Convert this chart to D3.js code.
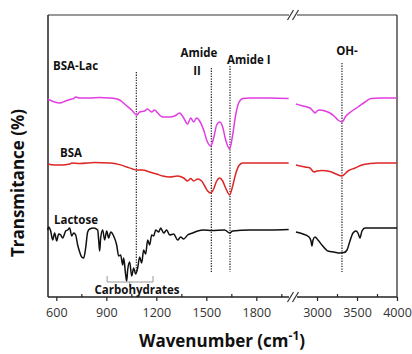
<!DOCTYPE html>
<html><head><meta charset="utf-8">
<script src="https://cdn.jsdelivr.net/npm/d3@7"></script>
<style>body{margin:0;background:#fff}svg{display:block}</style>
</head><body><svg id="c" width="412" height="354"></svg>
<script>
// ---------- data (wavenumber cm-1, transmittance a.u.) ----------
const bsaLacLeft = [[548,99],[620,97],[656,98],[692,99],[704,99.2],[716,100],[740,99.5],[800,99.5],[860,99.8],[920,99.5],[950,99.2],[980,98.5],[1016,96],[1052,93.5],[1082,91],[1100,92.5],[1130,93],[1147,94],[1172,92.5],[1190,93.5],[1208,92],[1238,90],[1280,90],[1310,90.5],[1340,92],[1364,89.5],[1388,86.5],[1406,89.5],[1424,87.5],[1442,89.5],[1460,88],[1484,83.5],[1502,78.5],[1526,75.5],[1544,79.5],[1562,86],[1580,87.5],[1598,85],[1616,78.5],[1640,74],[1658,81],[1676,91],[1694,97],[1718,99.2],[1760,99.5],[1880,99.5],[1994,99.2]];
const bsaLacRight = [[2737,96.5],[2825,95.5],[2912,94.5],[2950,93],[2975,92],[3000,93],[3037,93.5],[3100,93],[3162,92],[3212,90.5],[3262,88.5],[3312,87.5],[3362,90.5],[3437,93],[3512,95],[3600,97.5],[3675,99.2],[3787,99.5],[4000,99.5]];
const bsaLeft = [[548,66.5],[590,66],[632,66],[680,66.5],[692,67],[740,66.7],[830,67.2],[920,67],[980,66.2],[1022,65],[1058,64],[1082,63.5],[1118,63.5],[1160,62.5],[1202,61.5],[1238,60.5],[1280,60],[1328,60.5],[1364,59.5],[1388,58],[1406,59.2],[1424,58],[1448,59],[1472,58],[1490,55.5],[1508,53],[1526,52],[1544,54],[1562,58],[1580,59.5],[1598,58],[1616,54.5],[1640,51],[1658,55.5],[1676,61.5],[1694,65.5],[1718,67],[1994,67]];
const bsaRight = [[2737,66],[2850,65],[2912,64.5],[2962,62.5],[3000,63],[3062,63.2],[3162,62.7],[3237,61.5],[3312,60.5],[3387,63],[3475,64.5],[3562,66],[3662,66.7],[3762,67],[4000,67]];
const lactoseLeft = [[548,33.5],[554,35],[566,33],[578,28.5],[590,32],[602,28],[614,31.5],[626,31],[638,29.5],[656,33],[668,33.5],[680,34.5],[692,30.5],[704,32],[716,31],[728,26],[740,22.5],[752,20],[764,19.5],[776,24.5],[788,32.5],[800,34],[824,34.5],[848,33.5],[854,28.5],[860,23],[866,29.5],[878,33.5],[890,28.5],[902,33],[914,29.5],[926,32.5],[944,30.5],[962,26],[974,20.5],[986,21],[998,16],[1004,19.5],[1016,11],[1022,8],[1028,13.5],[1040,17.5],[1052,10.5],[1064,14.5],[1076,11.5],[1088,14.5],[1100,20],[1112,17],[1124,23.5],[1136,21.5],[1148,28.5],[1160,26],[1172,31],[1184,30.5],[1196,33.5],[1214,32.5],[1226,34.5],[1244,32],[1262,33.5],[1280,31],[1304,31.5],[1328,28.5],[1346,30],[1364,29],[1388,31],[1418,32],[1448,33],[1484,33.5],[1532,33.2],[1610,33.5],[1640,32],[1658,33],[1760,33.5],[1880,33.5],[1994,33.7]];
const lactoseRight = [[2737,32.5],[2825,31.5],[2900,30],[2925,28],[2937,25.5],[2950,28.5],[2975,30],[3012,28.5],[3062,26],[3137,23],[3212,22.5],[3287,22],[3337,22.2],[3375,23.5],[3412,28],[3450,32],[3487,33],[3512,32],[3537,29.5],[3562,33],[3600,34.5],[3725,34.5],[4000,34.5]];
const seriesNames = ["BSA-Lac","BSA","Lactose"];
const seriesColors = ["#e23de2","#dd2626","#111111"];
const majorTicks = [600,900,1200,1500,1800,3000,3500,4000];
const minorTicks = [750,1050,1350,1650,1950,3250,3750];
const markerLines = [{wn:1080,top:72},{wn:1530,top:68},{wn:1642,top:66},{wn:3312,top:63}];

// ---------- layout ----------
const svg = d3.select("#c");
const L=48,R=397,T=15,B=297,BRK=293;
const x = d3.scaleLinear().domain([550,2020,2700,4000]).range([L,BRK,BRK,R]);
const y = d3.scaleLinear().domain([0,141]).range([B,T]);
const font = "'Open Sans', 'DejaVu Sans', sans-serif";

// frame
svg.append("line").attr("x1",L).attr("x2",R).attr("y1",T).attr("y2",T).attr("stroke","#777").attr("stroke-width",1.5);
svg.append("line").attr("x1",R).attr("x2",R).attr("y1",T).attr("y2",B).attr("stroke","#333").attr("stroke-width",1.3);
svg.append("line").attr("x1",L).attr("x2",L).attr("y1",T).attr("y2",B).attr("stroke","#222").attr("stroke-width",1.5);
svg.append("line").attr("x1",L).attr("x2",R).attr("y1",B).attr("y2",B).attr("stroke","#222").attr("stroke-width",1.5);

// axis ticks
const axMaj = svg.append("g").attr("transform",`translate(0,${B})`)
  .call(d3.axisBottom(x).tickValues(majorTicks).tickSize(4).tickPadding(7).tickFormat(d3.format("d")));
axMaj.select(".domain").remove();
axMaj.selectAll("line").attr("stroke","#222").attr("stroke-width",1.2);
axMaj.selectAll("text").attr("font-family",font).attr("font-size",12.5).attr("fill","#333");
const axMin = svg.append("g").attr("transform",`translate(0,${B})`)
  .call(d3.axisTop(x).tickValues(minorTicks).tickSize(3).tickFormat(""));
axMin.select(".domain").remove();
axMin.selectAll("line").attr("stroke","#222").attr("stroke-width",1.2);

// break marks
[T,B].forEach(yy=>{
  svg.append("rect").attr("x",BRK-4).attr("y",yy-3).attr("width",8).attr("height",6).attr("fill","#fff");
  [-2.5,2.5].forEach(dx=>{
    svg.append("line").attr("x1",BRK+dx-3).attr("y1",yy+5).attr("x2",BRK+dx+3).attr("y2",yy-5)
      .attr("stroke","#333").attr("stroke-width",1.2);
  });
});

// marker dotted lines
markerLines.forEach(m=>{
  svg.append("line").attr("x1",x(m.wn)).attr("x2",x(m.wn)).attr("y1",m.top).attr("y2",272)
    .attr("stroke","#222").attr("stroke-width",1.2).attr("stroke-dasharray","1.3,1.3");
});

// spectra
const line = d3.line().x(d=>x(d[0])).y(d=>y(d[1])).curve(d3.curveMonotoneX);
const segs = [[bsaLacLeft,bsaLacRight],[bsaLeft,bsaRight],[lactoseLeft,lactoseRight]];
segs.forEach((pair,i)=>pair.forEach(s=>{
  svg.append("path").attr("d",line(s)).attr("fill","none").attr("stroke",seriesColors[i]).attr("stroke-width",1.5).attr("stroke-linejoin","round");
}));

// carbohydrate bracket
const bx1=x(905), bx2=x(1180), bxm=x(1040);
svg.append("path").attr("d",`M${bx1},276V282H${bx2}V276M${bxm},282V287`).attr("fill","none").attr("stroke","#999").attr("stroke-width",1);

// labels
function lab(t,xx,yy,anchor,size){
  return svg.append("text").attr("x",xx).attr("y",yy).attr("text-anchor",anchor||"start")
    .attr("font-family",font).attr("font-weight","bold").attr("font-size",size||11.5).attr("fill","#111").text(t);
}
lab(seriesNames[0],53,70);
lab(seriesNames[1],60,157);
lab(seriesNames[2],54,224);
lab("Amide",199,57,"middle");
lab("II",197,75,"middle");
lab("Amide I",227,64);
lab("OH-",347,55,"middle");
lab("Carbohydrates",137,294,"middle");

// axis titles
svg.append("text").attr("transform","translate(24,183) rotate(-90)").attr("text-anchor","middle")
  .attr("font-family",font).attr("font-weight","bold").attr("font-size",17).attr("fill","#111").text("Transmitance (%)");
const xt = svg.append("text").attr("x",222).attr("y",347).attr("text-anchor","middle")
  .attr("font-family",font).attr("font-weight","bold").attr("font-size",17).attr("fill","#111");
xt.append("tspan").text("Wavenumber (cm");
xt.append("tspan").attr("dy",-7).attr("font-size",12).text("-1");
xt.append("tspan").attr("dy",7).text(")");
</script></body></html>
